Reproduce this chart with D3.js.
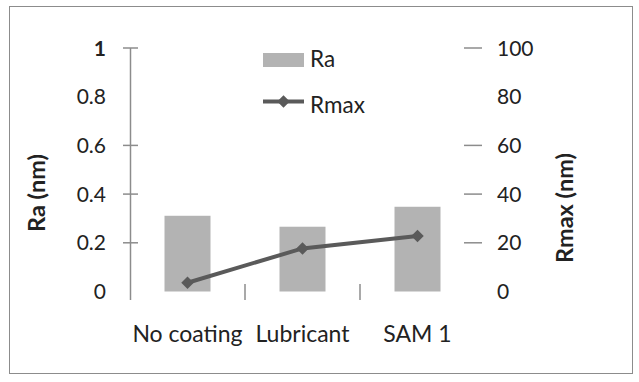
<!DOCTYPE html>
<html>
<head>
<meta charset="utf-8">
<script src="https://cdn.jsdelivr.net/npm/d3@7"></script>
<style>
  body { margin: 0; background: #fff; }
  text { font-family: Lato, "Open Sans", sans-serif; fill: #222; }
</style>
</head>
<body>
<svg id="chart" width="639" height="382"></svg>
<script>
const categories = ['No coating', 'Lubricant', 'SAM 1'];
const raValues = [0.311, 0.266, 0.348];
const rmaxValues = [3.6, 17.7, 22.8];
const leftTicks = [1, 0.8, 0.6, 0.4, 0.2, 0];
const rightTicks = [100, 80, 60, 40, 20, 0];
// ticks that actually show a mark in the picture
const leftMarks = [1, 0.6, 0.4, 0.2];
const rightMarks = [100, 60, 40, 20];

const svg = d3.select('#chart');

svg.append('rect')
    .attr('x', 9.5).attr('y', 6.5)
    .attr('width', 623).attr('height', 367)
    .attr('fill', '#fff')
    .attr('stroke', '#8c8c8c');

const xScale = d3.scaleBand()
    .domain(categories)
    .range([130, 475])
    .paddingInner(0.6)
    .paddingOuter(0.3);

const yLeft = d3.scaleLinear().domain([0, 1]).range([291.5, 48]);
const yRight = d3.scaleLinear().domain([0, 100]).range([291.5, 48]);

const step = xScale.step();

// bars
svg.selectAll('.bar')
    .data(raValues)
    .enter().append('rect')
    .attr('x', (d, i) => xScale(categories[i]))
    .attr('y', d => yLeft(d))
    .attr('width', xScale.bandwidth())
    .attr('height', d => yLeft(0) - yLeft(d))
    .attr('fill', '#b3b3b3');

// left axis
svg.append('line')
    .attr('x1', 130.5).attr('x2', 130.5)
    .attr('y1', 48).attr('y2', 300)
    .attr('stroke', '#8c8c8c').attr('stroke-width', 1.5);

svg.selectAll('.ltick')
    .data(leftMarks)
    .enter().append('line')
    .attr('x1', 123).attr('x2', 138)
    .attr('y1', d => yLeft(d)).attr('y2', d => yLeft(d))
    .attr('stroke', '#8c8c8c').attr('stroke-width', 1.5);

svg.selectAll('.llabel')
    .data(leftTicks)
    .enter().append('text')
    .attr('x', 106)
    .attr('y', d => yLeft(d))
    .attr('dy', '0.36em')
    .attr('text-anchor', 'end')
    .attr('font-size', 21)
    .attr('font-weight', d => d === 1 ? 'bold' : 'normal')
    .text(d => d);

// right ticks (no axis line)
svg.selectAll('.rtick')
    .data(rightMarks)
    .enter().append('line')
    .attr('x1', 464).attr('x2', 482)
    .attr('y1', d => yRight(d)).attr('y2', d => yRight(d))
    .attr('stroke', '#8c8c8c').attr('stroke-width', 1.5);

svg.selectAll('.rlabel')
    .data(rightTicks)
    .enter().append('text')
    .attr('x', 497)
    .attr('y', d => yRight(d))
    .attr('dy', '0.36em')
    .attr('text-anchor', 'start')
    .attr('font-size', 21)
    .text(d => d);

// category separators
svg.selectAll('.ctick')
    .data(categories.slice(1))
    .enter().append('line')
    .attr('x1', d => xScale(d) - step * 0.3)
    .attr('x2', d => xScale(d) - step * 0.3)
    .attr('y1', 284).attr('y2', 300)
    .attr('stroke', '#8c8c8c').attr('stroke-width', 1.5);

svg.selectAll('.clabel')
    .data(categories)
    .enter().append('text')
    .attr('x', d => xScale(d) + xScale.bandwidth() / 2)
    .attr('y', 342)
    .attr('text-anchor', 'middle')
    .attr('font-size', 23)
    .text(d => d);

// Rmax line
const line = d3.line()
    .x((d, i) => xScale(categories[i]) + xScale.bandwidth() / 2)
    .y(d => yRight(d));

svg.append('path')
    .attr('d', line(rmaxValues))
    .attr('fill', 'none')
    .attr('stroke', '#5a5a5a')
    .attr('stroke-width', 4);

const diamond = d3.symbol().type(d3.symbolDiamond2).size(100);

svg.selectAll('.pt')
    .data(rmaxValues)
    .enter().append('path')
    .attr('d', diamond)
    .attr('transform', (d, i) =>
        `translate(${xScale(categories[i]) + xScale.bandwidth() / 2},${yRight(d)})`)
    .attr('fill', '#5a5a5a');

// axis titles
svg.append('text')
    .attr('transform', 'translate(37,193) rotate(-90)')
    .attr('dy', '0.36em')
    .attr('text-anchor', 'middle')
    .attr('font-size', 23.5)
    .attr('font-weight', 'bold')
    .text('Ra (nm)');

svg.append('text')
    .attr('transform', 'translate(565,208) rotate(-90)')
    .attr('dy', '0.36em')
    .attr('text-anchor', 'middle')
    .attr('font-size', 23.5)
    .attr('font-weight', 'bold')
    .text('Rmax (nm)');

// legend
const legend = svg.append('g');
legend.append('rect')
    .attr('x', 263).attr('y', 53)
    .attr('width', 41).attr('height', 14)
    .attr('fill', '#b3b3b3');
legend.append('text')
    .attr('x', 310).attr('y', 67)
    .attr('font-size', 22.5)
    .text('Ra');
legend.append('line')
    .attr('x1', 263).attr('x2', 304)
    .attr('y1', 101.5).attr('y2', 101.5)
    .attr('stroke', '#5a5a5a').attr('stroke-width', 4);
legend.append('path')
    .attr('d', diamond)
    .attr('transform', 'translate(283.5,101.5)')
    .attr('fill', '#5a5a5a');
legend.append('text')
    .attr('x', 310).attr('y', 113)
    .attr('font-size', 22.5)
    .text('Rmax');
</script>
</body>
</html>
